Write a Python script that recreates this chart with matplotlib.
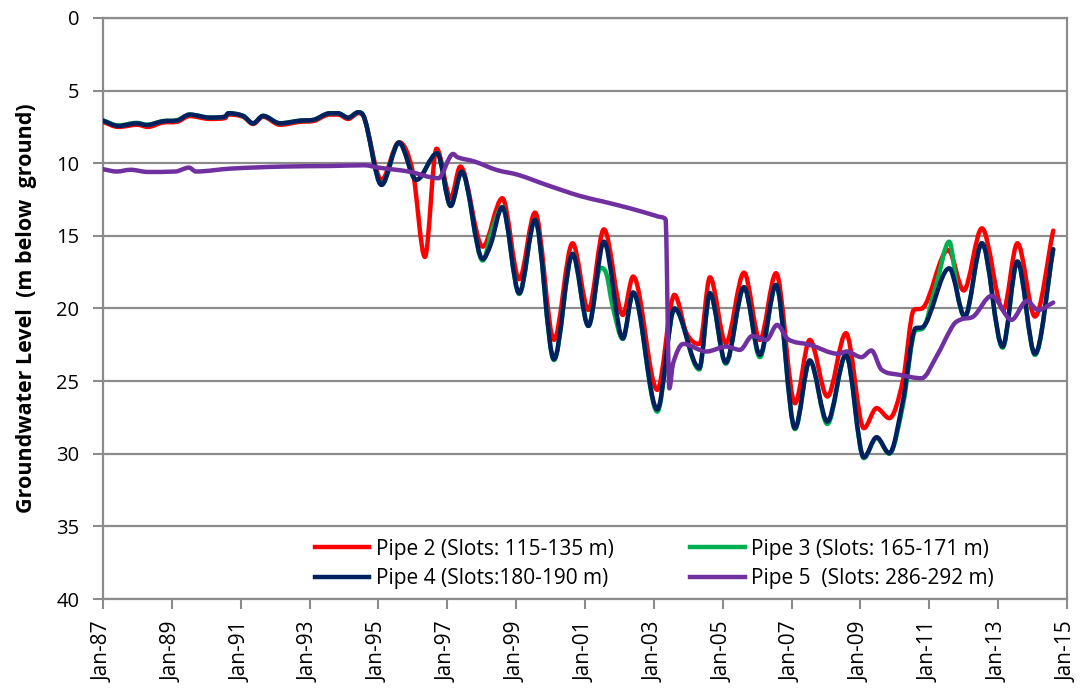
import numpy as np
import matplotlib
matplotlib.use("Agg")
import matplotlib.pyplot as plt
from matplotlib.path import Path
from matplotlib.patches import PathPatch
from matplotlib.lines import Line2D

plt.rcParams['font.family'] = ['Open Sans', 'DejaVu Sans']

# ---- data: time in decimal years, groundwater level in m below ground ----
pipe2_t = [1987.0, 1987.45, 1988.0, 1988.3, 1988.74, 1989.14, 1989.52, 1990.1, 1990.54, 1990.64,
           1991.07, 1991.36, 1991.65, 1992.14, 1992.72, 1993.1, 1993.59, 1993.83, 1994.12, 1994.42,
           1994.56, 1995.09, 1995.6, 1996.0, 1996.35, 1996.69, 1997.1, 1997.38, 1998.03, 1998.6,
           1999.09, 1999.55, 2000.1, 2000.64, 2001.1, 2001.55, 2002.1, 2002.4, 2003.1, 2003.6,
           2003.95, 2004.33, 2004.63, 2005.09, 2005.62, 2006.08, 2006.55, 2007.1, 2007.53, 2008.04,
           2008.58, 2009.1, 2009.47, 2009.84, 2010.24, 2010.55, 2010.8, 2011.55, 2012.0, 2012.53,
           2013.15, 2013.56, 2014.07, 2014.6]
pipe2_v = [7.15, 7.5, 7.35, 7.5, 7.2, 7.15, 6.75, 6.95, 6.9, 6.65,
           6.8, 7.3, 6.8, 7.35, 7.15, 7.1, 6.65, 6.65, 6.95, 6.55,
           6.75, 11.15, 8.55, 10.6, 16.45, 9.0, 12.4, 10.23, 15.74, 12.41,
           17.98, 13.4, 22.16, 15.51, 20.1, 14.55, 20.44, 17.8, 25.6, 19.06,
           21.7, 22.45, 17.85, 22.39, 17.53, 22.16, 17.57, 26.52, 22.16, 26.06,
           21.7, 28.24, 26.86, 27.55, 24.91, 20.1, 19.98, 15.97, 18.76, 14.48,
           20.1, 15.51, 20.55, 14.64]

pipe3_t = [1987.0, 1987.45, 1987.98, 1988.27, 1988.74, 1989.14, 1989.52, 1990.1, 1990.54, 1990.64,
           1991.07, 1991.36, 1991.65, 1992.14, 1992.72, 1993.1, 1993.59, 1993.83, 1994.12, 1994.42,
           1994.56, 1995.09, 1995.6, 1996.1, 1996.71, 1997.1, 1997.42, 1998.03, 1998.3, 1998.6,
           1999.09, 1999.55, 2000.1, 2000.64, 2001.1, 2001.45, 2001.62, 2001.8, 2002.1, 2002.4,
           2003.1, 2003.6, 2004.32, 2004.63, 2005.09, 2005.62, 2006.08, 2006.55, 2007.1, 2007.53,
           2008.04, 2008.58, 2009.1, 2009.47, 2009.84, 2010.24, 2010.6, 2010.8, 2011.2, 2011.58,
           2011.85, 2012.03, 2012.53, 2013.13, 2013.56, 2014.07, 2014.6]
pipe3_v = [7.05, 7.4, 7.22, 7.35, 7.1, 7.05, 6.65, 6.86, 6.8, 6.56,
           6.74, 7.25, 6.74, 7.25, 7.07, 7.02, 6.56, 6.56, 6.86, 6.49,
           6.7, 11.49, 8.58, 11.15, 9.31, 12.94, 10.58, 16.7, 14.6, 13.0,
           19.0, 13.9, 23.55, 16.24, 21.2, 17.2, 17.6, 19.8, 22.1, 18.9,
           27.1, 20.0, 24.2, 18.95, 23.8, 18.54, 23.35, 18.38, 28.3, 23.58,
           27.95, 23.19, 30.3, 28.9, 30.0, 26.6, 21.5, 21.4, 18.4, 15.4,
           19.4, 20.6, 15.51, 22.7, 16.77, 23.2, 15.92]

pipe4_t = [1987.0, 1987.45, 1987.98, 1988.27, 1988.74, 1989.14, 1989.52, 1990.1, 1990.54, 1990.64,
           1991.07, 1991.36, 1991.65, 1992.14, 1992.72, 1993.1, 1993.59, 1993.83, 1994.12, 1994.42,
           1994.56, 1995.09, 1995.6, 1996.1, 1996.71, 1997.1, 1997.42, 1998.03, 1998.26, 1998.6,
           1999.09, 1999.55, 2000.1, 2000.64, 2001.1, 2001.55, 2002.1, 2002.4, 2003.1, 2003.6,
           2004.32, 2004.63, 2005.09, 2005.62, 2006.08, 2006.55, 2007.1, 2007.53, 2008.04, 2008.58,
           2009.1, 2009.47, 2009.84, 2010.24, 2010.6, 2010.8, 2011.58, 2012.03, 2012.53, 2013.13,
           2013.56, 2014.07, 2014.6]
pipe4_v = [7.07, 7.43, 7.25, 7.37, 7.11, 7.06, 6.65, 6.86, 6.8, 6.56,
           6.74, 7.25, 6.74, 7.25, 7.07, 7.02, 6.56, 6.56, 6.86, 6.49,
           6.7, 11.49, 8.58, 11.15, 9.31, 12.94, 10.58, 16.6, 15.6, 13.03,
           18.95, 13.9, 23.49, 16.24, 21.2, 15.4, 22.05, 18.9, 26.95, 20.0,
           24.1, 18.95, 23.72, 18.54, 23.19, 18.38, 28.24, 23.58, 27.78, 23.19,
           30.24, 28.86, 29.96, 26.29, 21.36, 21.29, 17.23, 20.55, 15.51, 22.62,
           16.77, 23.12, 15.92]

pipe5_t = [1987.0, 1987.4, 1987.8, 1988.3, 1989.1, 1989.5, 1989.7, 1990.7, 1992.2, 1993.6,
           1994.6, 1995.0, 1995.9, 1996.74, 1997.17, 1997.3, 1997.8, 1998.43, 1999.06, 1999.88,
           2000.85, 2001.53, 2002.3, 2003.13, 2003.34, 2003.45, 2003.56, 2003.85, 2004.53, 2005.11,
           2005.5, 2005.86, 2006.27, 2006.58, 2006.9, 2007.53, 2008.36, 2008.6, 2009.03, 2009.32,
           2009.61, 2010.15, 2010.78, 2011.21, 2011.7, 2011.94, 2012.28, 2012.81, 2013.39, 2013.83,
           2014.16, 2014.6]
pipe5_v = [10.41, 10.57, 10.45, 10.6, 10.57, 10.3, 10.57, 10.37, 10.23, 10.19,
           10.14, 10.3, 10.58, 11.03, 9.36, 9.59, 9.89, 10.46, 10.8, 11.49,
           12.25, 12.64, 13.1, 13.67, 13.85, 25.5, 23.77, 22.44, 22.96, 22.62,
           22.85, 21.89, 22.16, 21.13, 22.12, 22.5, 23.12, 22.96, 23.35, 22.89,
           24.2, 24.57, 24.8, 23.3, 21.13, 20.74, 20.55, 19.13, 20.78, 19.48,
           20.1, 19.59]

series_labels = ['Pipe 2 (Slots: 115-135 m)', 'Pipe 3 (Slots: 165-171 m)',
                 'Pipe 4 (Slots:180-190 m)', 'Pipe 5  (Slots: 286-292 m)']
series_colors = ['#FF0000', '#00B050', '#002060', '#7030A0']

tick_years = list(range(1987, 2016, 2))
tick_labels = ['Jan-87', 'Jan-89', 'Jan-91', 'Jan-93', 'Jan-95', 'Jan-97', 'Jan-99', 'Jan-01',
               'Jan-03', 'Jan-05', 'Jan-07', 'Jan-09', 'Jan-11', 'Jan-13', 'Jan-15']
y_ticks = [0, 5, 10, 15, 20, 25, 30, 35, 40]


def smooth_path(t, v):
    """Smoothed line through the points: cubic Bezier segments with monotone-limited tangents."""
    t = np.asarray(t, float)
    v = np.asarray(v, float)
    n = len(t)
    h = np.diff(t)
    d = np.diff(v) / h
    m = np.zeros(n)
    m[0], m[-1] = d[0], d[-1]
    for i in range(1, n - 1):
        if d[i - 1] * d[i] <= 0:
            m[i] = 0.0
        else:
            m[i] = (v[i + 1] - v[i - 1]) / (t[i + 1] - t[i - 1])
            lim = 3.0 * min(abs(d[i - 1]), abs(d[i]))
            m[i] = np.sign(m[i]) * min(abs(m[i]), lim)
    verts = [(t[0], v[0])]
    codes = [Path.MOVETO]
    for i in range(n - 1):
        verts += [(t[i] + h[i] / 3, v[i] + m[i] * h[i] / 3),
                  (t[i + 1] - h[i] / 3, v[i + 1] - m[i + 1] * h[i] / 3),
                  (t[i + 1], v[i + 1])]
        codes += [Path.CURVE4] * 3
    return Path(verts, codes)


fig = plt.figure(figsize=(10.85, 6.89), dpi=100)
ax = fig.add_axes([0.0949, 0.1306, 0.8885, 0.8433])

grid_c = '#8C8C8C'
ax.set_xlim(1987, 2015)
ax.set_ylim(40, 0)
ax.set_yticks(y_ticks)
ax.set_xticks(tick_years)
ax.set_xticklabels(tick_labels, rotation=90)
ax.yaxis.grid(True, color=grid_c, linewidth=1.6)
ax.set_axisbelow(True)
for s in ax.spines.values():
    s.set_color(grid_c)
    s.set_linewidth(1.6)
ax.tick_params(axis='both', colors=grid_c, width=1.5, length=7, labelcolor='black', labelsize=14.5)
ax.tick_params(axis='x', pad=9, labelsize=15)
ax.tick_params(axis='y', pad=10)

data = [(pipe2_t, pipe2_v), (pipe3_t, pipe3_v), (pipe4_t, pipe4_v), (pipe5_t, pipe5_v)]
handles = []
for (t, v), col, lab in zip(data, series_colors, series_labels):
    patch = PathPatch(smooth_path(t, v), facecolor='none', edgecolor=col, linewidth=3.2,
                      capstyle='round', joinstyle='round', zorder=3)
    ax.add_patch(patch)
    handles.append(Line2D([], [], color=col, linewidth=3.2, label=lab))

ax.set_ylabel('Groundwater Level  (m below  ground)', fontsize=15.5, fontweight='bold', labelpad=14)

leg = ax.legend([handles[0], handles[2], handles[1], handles[3]],
                [series_labels[0], series_labels[2], series_labels[1], series_labels[3]],
                ncol=2, loc='lower center', bbox_to_anchor=(0.572, -0.015), frameon=False,
                fontsize=15, handlelength=2.6, handletextpad=0.3, columnspacing=3.7,
                labelspacing=0.4)

fig.savefig('out.png', dpi=100)
